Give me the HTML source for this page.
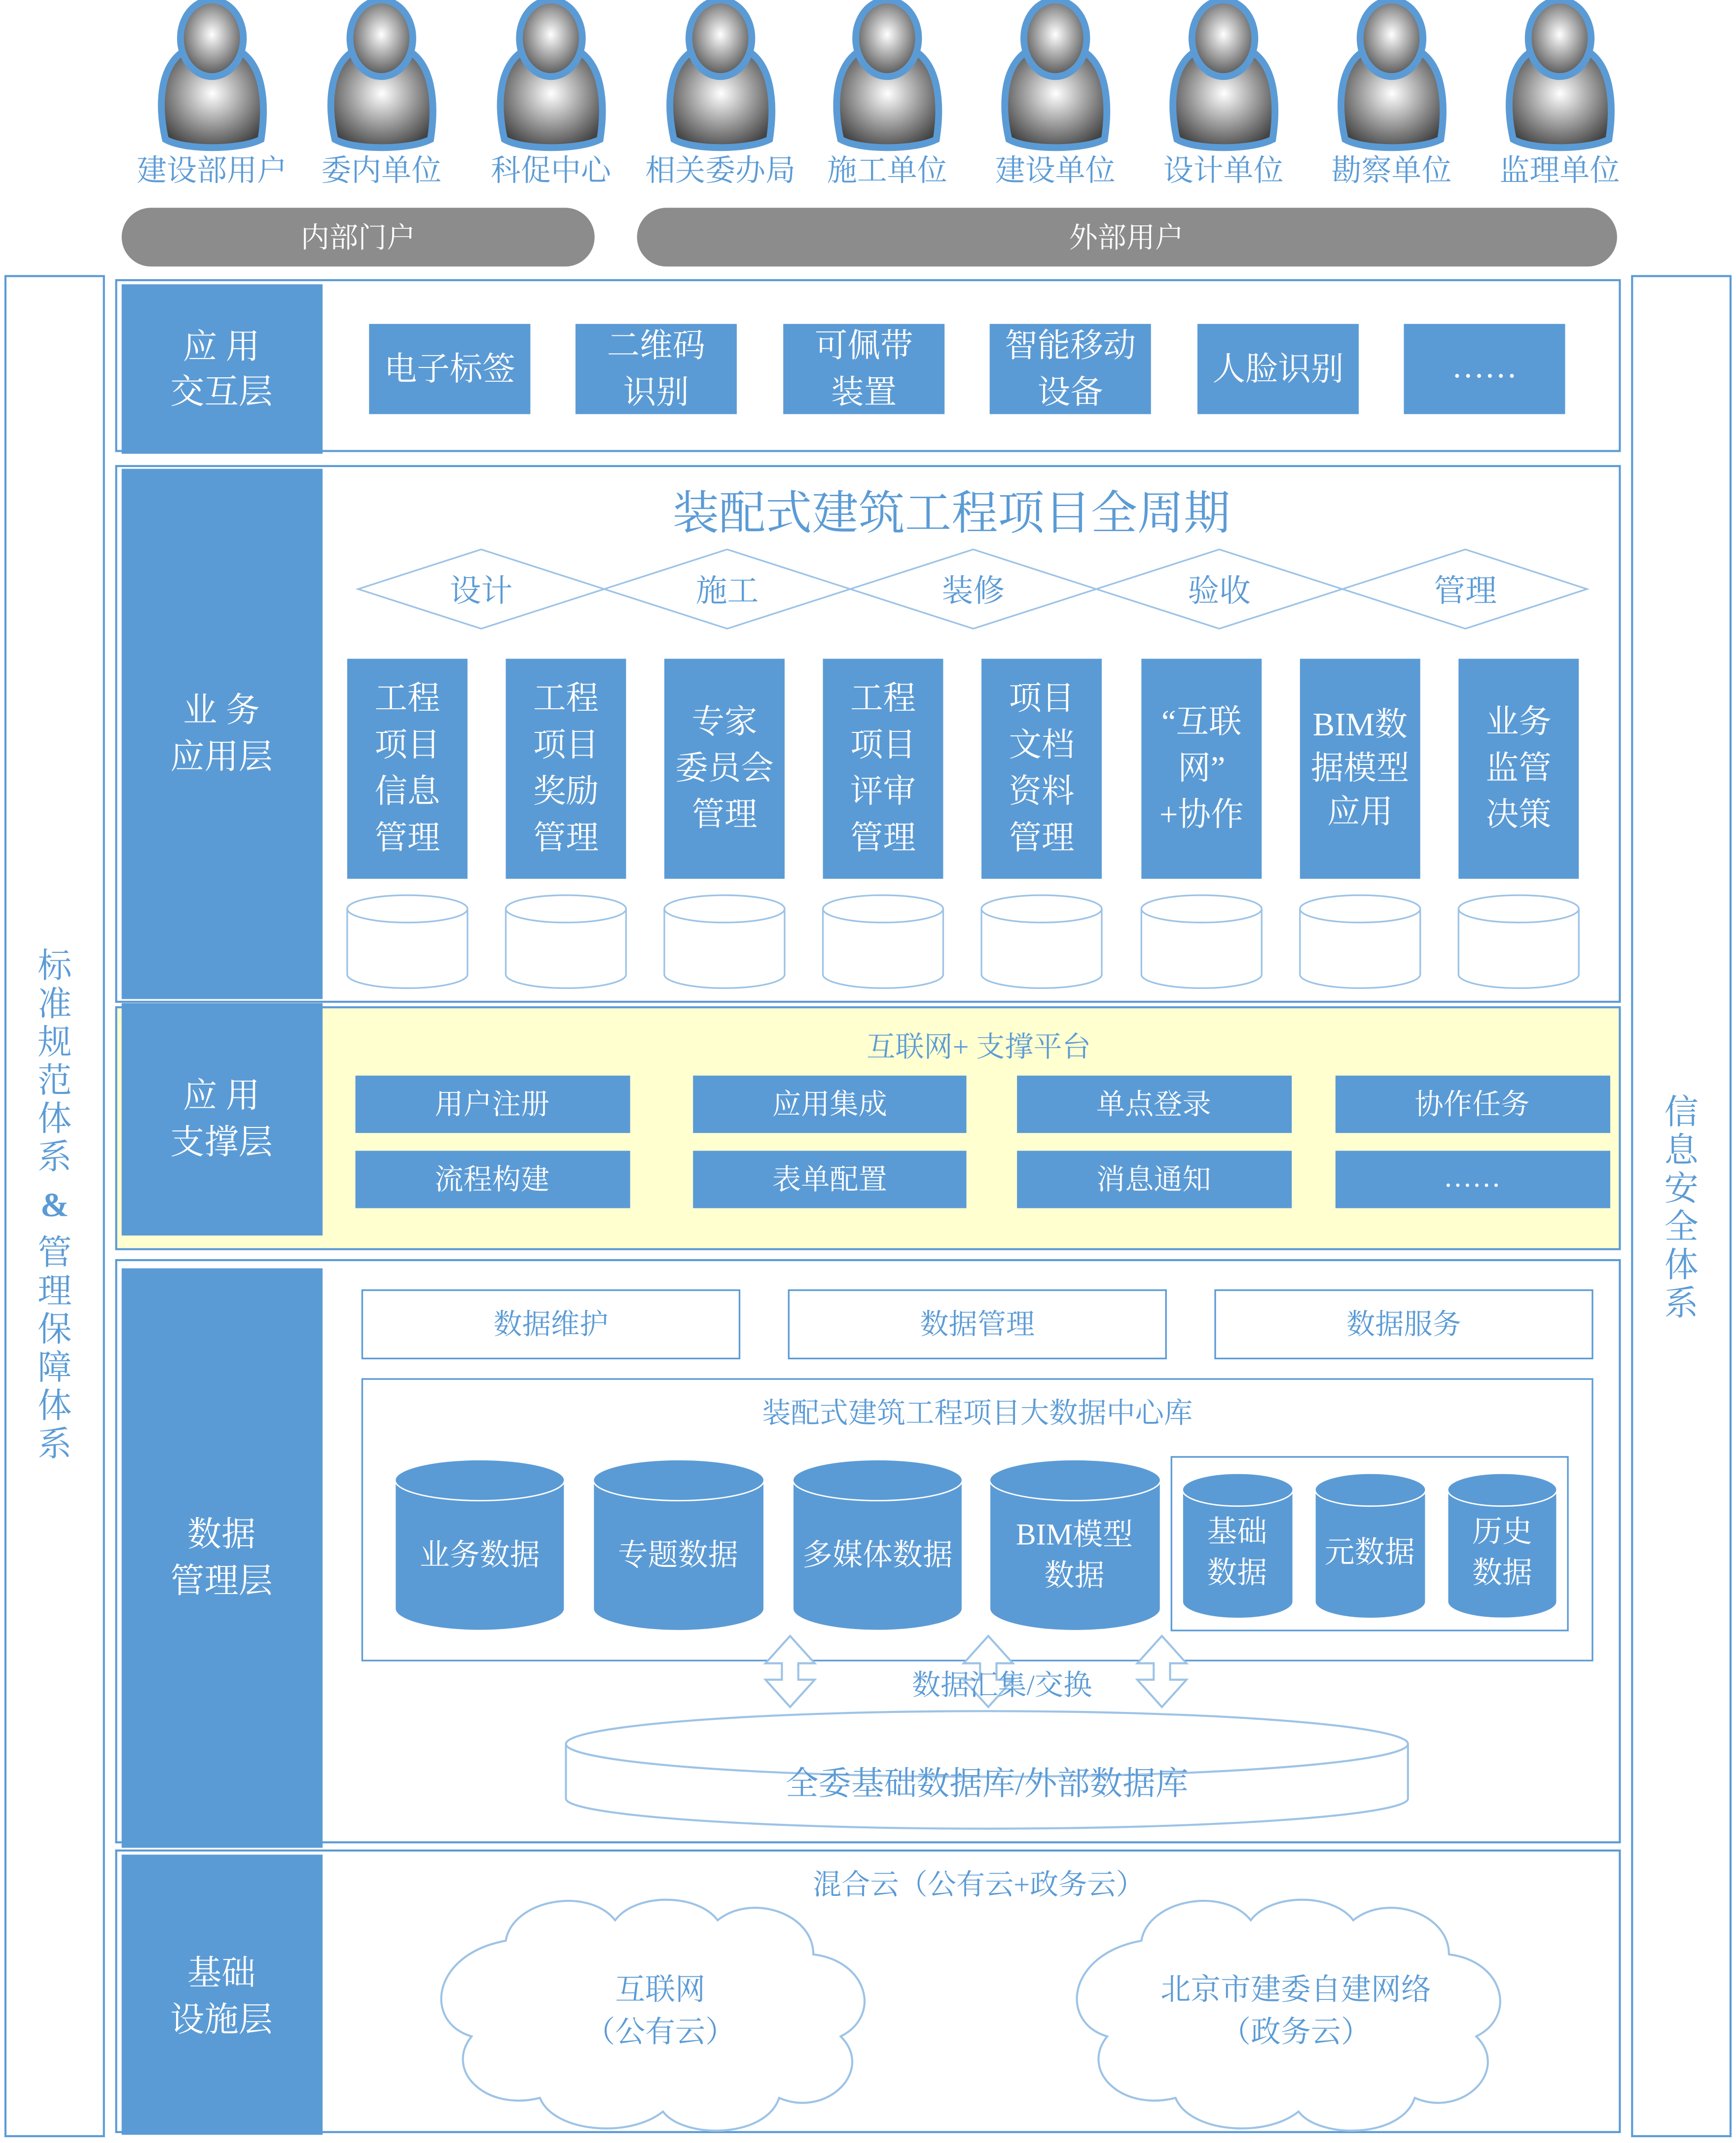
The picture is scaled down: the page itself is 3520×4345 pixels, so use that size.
<!DOCTYPE html>
<html><head><meta charset="utf-8"><style>
html,body{margin:0;padding:0;background:#fff}
svg{display:block}
text{font-family:"Liberation Serif","Noto Serif CJK SC","Noto Sans CJK SC",serif}
.w{fill:#fff}.b{fill:#5B9BD5}
</style></head><body>
<svg width="3520" height="4345" viewBox="0 0 1270 1568" preserveAspectRatio="none" xmlns="http://www.w3.org/2000/svg">
<defs>
<radialGradient id="g" cx="50%" cy="45%" r="60%"><stop offset="0" stop-color="#fff"/><stop offset="1" stop-color="#444"/></radialGradient>
<g id="p">
<path d="M-34,96 C-40,70 -38,40 -18,30 L18,30 C38,40 40,70 36,96 C20,104 -20,104 -34,96Z" fill="url(#g)" stroke="#5B9BD5" stroke-width="5"/>
<ellipse cx="0" cy="22" rx="23" ry="28" fill="url(#g)" stroke="#5B9BD5" stroke-width="5"/>
</g>
<g id="cyl"><path d="M0,10 v48 a44,10 0 0 0 88,0 v-48" fill="#fff" stroke="#9DC3E6" stroke-width="1.2"/><ellipse cx="44" cy="10" rx="44" ry="10" fill="#fff" stroke="#9DC3E6" stroke-width="1.2"/></g>
</defs>
<rect width="1270" height="1568" fill="#fff"/>
<!-- people -->
<g>
<use href="#p" x="155" y="6"/><use href="#p" x="279" y="6"/><use href="#p" x="403" y="6"/><use href="#p" x="527" y="6"/><use href="#p" x="649" y="6"/><use href="#p" x="772" y="6"/><use href="#p" x="895" y="6"/><use href="#p" x="1018" y="6"/><use href="#p" x="1141" y="6"/>
</g>
<g font-size="22" fill="#5B9BD5" text-anchor="middle">
<text x="155" y="132">建设部用户</text><text x="279" y="132">委内单位</text><text x="403" y="132">科促中心</text><text x="527" y="132">相关委办局</text><text x="649" y="132">施工单位</text><text x="772" y="132">建设单位</text><text x="895" y="132">设计单位</text><text x="1018" y="132">勘察单位</text><text x="1141" y="132">监理单位</text>
</g>
<rect x="89" y="152" width="346" height="43" rx="21.5" fill="#8C8C8C"/>
<rect x="466" y="152" width="717" height="43" rx="21.5" fill="#8C8C8C"/>
<text x="262" y="181" font-size="21" class="w" text-anchor="middle">内部门户</text>
<text x="824" y="181" font-size="21" class="w" text-anchor="middle">外部用户</text>
<!-- side columns -->
<rect x="4" y="202" width="72" height="1361" fill="none" stroke="#5B9BD5" stroke-width="1.5"/>
<rect x="1194" y="202" width="72" height="1361" fill="none" stroke="#5B9BD5" stroke-width="1.5"/>
<g font-size="25" fill="#5B9BD5" text-anchor="middle">
<text x="40" y="715">标</text><text x="40" y="743">准</text><text x="40" y="771">规</text><text x="40" y="799">范</text><text x="40" y="827">体</text><text x="40" y="855">系</text><text x="40" y="890" font-family="Liberation Sans" font-weight="bold">&amp;</text><text x="40" y="925">管</text><text x="40" y="953">理</text><text x="40" y="981">保</text><text x="40" y="1009">障</text><text x="40" y="1037">体</text><text x="40" y="1065">系</text>
<text x="1230" y="822">信</text><text x="1230" y="850">息</text><text x="1230" y="878">安</text><text x="1230" y="906">全</text><text x="1230" y="934">体</text><text x="1230" y="962">系</text>
</g>
<!-- layer1 -->
<rect x="85" y="205" width="1100" height="125" fill="none" stroke="#5B9BD5" stroke-width="1.5"/>
<rect x="89" y="208" width="147" height="124" class="b"/>
<text x="162" y="262" font-size="25" class="w" text-anchor="middle">应 用</text>
<text x="162" y="295" font-size="25" class="w" text-anchor="middle">交互层</text>
<g class="b"><rect x="270" y="237" width="118" height="66"/><rect x="421" y="237" width="118" height="66"/><rect x="573" y="237" width="118" height="66"/><rect x="724" y="237" width="118" height="66"/><rect x="876" y="237" width="118" height="66"/><rect x="1027" y="237" width="118" height="66"/></g>
<g font-size="24" class="w" text-anchor="middle">
<text x="329" y="278">电子标签</text><text x="480" y="261">二维码</text><text x="480" y="295">识别</text><text x="632" y="261">可佩带</text><text x="632" y="295">装置</text><text x="783" y="261">智能移动</text><text x="783" y="295">设备</text><text x="935" y="278">人脸识别</text><text x="1086" y="276">……</text>
</g>
<!-- layer2 -->
<rect x="85" y="341" width="1100" height="392" fill="none" stroke="#5B9BD5" stroke-width="1.5"/>
<rect x="89" y="343" width="147" height="388" class="b"/>
<text x="162" y="528" font-size="25" class="w" text-anchor="middle">业 务</text>
<text x="162" y="562" font-size="25" class="w" text-anchor="middle">应用层</text>
<text x="696" y="387" font-size="34" fill="#5B9BD5" text-anchor="middle">装配式建筑工程项目全周期</text>
<g fill="#fff" stroke="#9DC3E6" stroke-width="1.2">
<polygon points="262,431 352,402 442,431 352,460"/><polygon points="442,431 532,402 622,431 532,460"/><polygon points="622,431 712,402 802,431 712,460"/><polygon points="802,431 892,402 982,431 892,460"/><polygon points="982,431 1072,402 1161,431 1072,460"/>
</g>
<g font-size="23" fill="#5B9BD5" text-anchor="middle"><text x="352" y="440">设计</text><text x="532" y="440">施工</text><text x="712" y="440">装修</text><text x="892" y="440">验收</text><text x="1072" y="440">管理</text></g>
<g class="b"><rect x="254" y="482" width="88" height="161"/><rect x="370" y="482" width="88" height="161"/><rect x="486" y="482" width="88" height="161"/><rect x="602" y="482" width="88" height="161"/><rect x="718" y="482" width="88" height="161"/><rect x="835" y="482" width="88" height="161"/><rect x="951" y="482" width="88" height="161"/><rect x="1067" y="482" width="88" height="161"/></g>
<g font-size="24" class="w" text-anchor="middle">
<text x="298" y="519">工程</text><text x="298" y="553">项目</text><text x="298" y="587">信息</text><text x="298" y="621">管理</text>
<text x="414" y="519">工程</text><text x="414" y="553">项目</text><text x="414" y="587">奖励</text><text x="414" y="621">管理</text>
<text x="530" y="536">专家</text><text x="530" y="570">委员会</text><text x="530" y="604">管理</text>
<text x="646" y="519">工程</text><text x="646" y="553">项目</text><text x="646" y="587">评审</text><text x="646" y="621">管理</text>
<text x="762" y="519">项目</text><text x="762" y="553">文档</text><text x="762" y="587">资料</text><text x="762" y="621">管理</text>
<text x="879" y="536">“互联</text><text x="879" y="570">网”</text><text x="879" y="604">+协作</text>
<text x="995" y="538">BIM数</text><text x="995" y="570">据模型</text><text x="995" y="602">应用</text>
<text x="1111" y="536">业务</text><text x="1111" y="570">监管</text><text x="1111" y="604">决策</text>
</g>
<use href="#cyl" x="254" y="655"/><use href="#cyl" x="370" y="655"/><use href="#cyl" x="486" y="655"/><use href="#cyl" x="602" y="655"/><use href="#cyl" x="718" y="655"/><use href="#cyl" x="835" y="655"/><use href="#cyl" x="951" y="655"/><use href="#cyl" x="1067" y="655"/>
<!-- layer3 -->
<rect x="85" y="737" width="1100" height="177" fill="#FFFFD0" stroke="#5B9BD5" stroke-width="1.5"/>
<rect x="89" y="734" width="147" height="170" class="b"/>
<text x="162" y="810" font-size="25" class="w" text-anchor="middle">应 用</text>
<text x="162" y="844" font-size="25" class="w" text-anchor="middle">支撑层</text>
<text x="716" y="773" font-size="21" fill="#5B9BD5" text-anchor="middle">互联网+ 支撑平台</text>
<g class="b"><rect x="260" y="787" width="201" height="42"/><rect x="507" y="787" width="200" height="42"/><rect x="744" y="787" width="201" height="42"/><rect x="977" y="787" width="201" height="42"/><rect x="260" y="842" width="201" height="42"/><rect x="507" y="842" width="200" height="42"/><rect x="744" y="842" width="201" height="42"/><rect x="977" y="842" width="201" height="42"/></g>
<g font-size="21" class="w" text-anchor="middle">
<text x="360" y="815">用户注册</text><text x="607" y="815">应用集成</text><text x="844" y="815">单点登录</text><text x="1077" y="815">协作任务</text>
<text x="360" y="870">流程构建</text><text x="607" y="870">表单配置</text><text x="844" y="870">消息通知</text><text x="1077" y="868">……</text>
</g>
<!-- layer4 -->
<rect x="85" y="922" width="1100" height="426" fill="none" stroke="#5B9BD5" stroke-width="1.5"/>
<rect x="89" y="928" width="147" height="424" class="b"/>
<text x="162" y="1131" font-size="25" class="w" text-anchor="middle">数据</text>
<text x="162" y="1165" font-size="25" class="w" text-anchor="middle">管理层</text>
<g fill="none" stroke="#5B9BD5" stroke-width="1.2"><rect x="265" y="944" width="276" height="50"/><rect x="577" y="944" width="276" height="50"/><rect x="889" y="944" width="276" height="50"/><rect x="265" y="1009" width="900" height="206"/><rect x="857" y="1066" width="290" height="127"/></g>
<g font-size="21" fill="#5B9BD5" text-anchor="middle"><text x="403" y="976">数据维护</text><text x="715" y="976">数据管理</text><text x="1027" y="976">数据服务</text><text x="715" y="1041">装配式建筑工程项目大数据中心库</text></g>
<g class="b" stroke="#fff" stroke-width="1">
<path d="M289,1083 v94 a62,16 0 0 0 124,0 v-94Z"/><ellipse cx="351" cy="1083" rx="62" ry="15"/>
<path d="M434,1083 v94 a62,16 0 0 0 125,0 v-94Z"/><ellipse cx="496.5" cy="1083" rx="62.5" ry="15"/>
<path d="M580,1083 v94 a62,16 0 0 0 124,0 v-94Z"/><ellipse cx="642" cy="1083" rx="62" ry="15"/>
<path d="M724,1083 v94 a62,16 0 0 0 125,0 v-94Z"/><ellipse cx="786.5" cy="1083" rx="62.5" ry="15"/>
<path d="M865,1090 v82 a40,12 0 0 0 81,0 v-82Z"/><ellipse cx="905.5" cy="1090" rx="40.5" ry="12"/>
<path d="M962,1090 v82 a40,12 0 0 0 81,0 v-82Z"/><ellipse cx="1002.5" cy="1090" rx="40.5" ry="12"/>
<path d="M1059,1090 v82 a40,12 0 0 0 80,0 v-82Z"/><ellipse cx="1099" cy="1090" rx="40" ry="12"/>
</g>
<g font-size="22" class="w" text-anchor="middle">
<text x="351" y="1145">业务数据</text><text x="496" y="1145">专题数据</text><text x="642" y="1145">多媒体数据</text><text x="786" y="1130">BIM模型</text><text x="786" y="1160">数据</text>
<text x="905" y="1128">基础</text><text x="905" y="1158">数据</text><text x="1002" y="1143">元数据</text><text x="1099" y="1128">历史</text><text x="1099" y="1158">数据</text>
</g>
<g fill="#fff" stroke="#9DC3E6" stroke-width="1.5">
<path d="M578,1197 l-18,20 h12 v12 h-12 l18,20 l18,-20 h-12 v-12 h12Z"/>
<path d="M723,1197 l-18,20 h12 v12 h-12 l18,20 l18,-20 h-12 v-12 h12Z"/>
<path d="M850,1197 l-18,20 h12 v12 h-12 l18,20 l18,-20 h-12 v-12 h12Z"/>
</g>
<text x="733" y="1240" font-size="21" fill="#5B9BD5" text-anchor="middle">数据汇集/交换</text>
<path d="M414,1276 v40 a308,22 0 0 0 616,0 v-40" fill="#fff" stroke="#9DC3E6" stroke-width="1.5"/>
<ellipse cx="722" cy="1276" rx="308" ry="24" fill="#fff" stroke="#9DC3E6" stroke-width="1.5"/>
<text x="722" y="1313" font-size="24" fill="#5B9BD5" text-anchor="middle">全委基础数据库/外部数据库</text>
<!-- layer5 -->
<rect x="85" y="1354" width="1100" height="206" fill="none" stroke="#5B9BD5" stroke-width="1.5"/>
<rect x="89" y="1357" width="147" height="205" class="b"/>
<text x="162" y="1452" font-size="25" class="w" text-anchor="middle">基础</text>
<text x="162" y="1486" font-size="25" class="w" text-anchor="middle">设施层</text>
<text x="716" y="1386" font-size="21" fill="#5B9BD5" text-anchor="middle">混合云（公有云+政务云）</text>
<g fill="#fff" stroke="#9DC3E6" stroke-width="1.5">
<path d="M370,1420 c5,-30 60,-40 80,-15 c15,-20 60,-20 75,0 c25,-20 70,-5 70,25 c40,5 50,45 20,60 c25,25 -10,60 -45,45 c-10,30 -70,30 -85,10 c-25,20 -80,15 -90,-10 c-40,10 -70,-20 -50,-45 c-35,-10 -30,-60 25,-70Z"/>
<path d="M835,1420 c5,-30 60,-40 80,-15 c15,-20 60,-20 75,0 c25,-20 70,-5 70,25 c40,5 50,45 20,60 c25,25 -10,60 -45,45 c-10,30 -70,30 -85,10 c-25,20 -80,15 -90,-10 c-40,10 -70,-20 -50,-45 c-35,-10 -30,-60 25,-70Z"/>
</g>
<g font-size="22" fill="#5B9BD5" text-anchor="middle">
<text x="483" y="1463">互联网</text><text x="483" y="1494">（公有云）</text>
<text x="948" y="1463">北京市建委自建网络</text><text x="948" y="1494">（政务云）</text>
</g>
</svg>
</body></html>
